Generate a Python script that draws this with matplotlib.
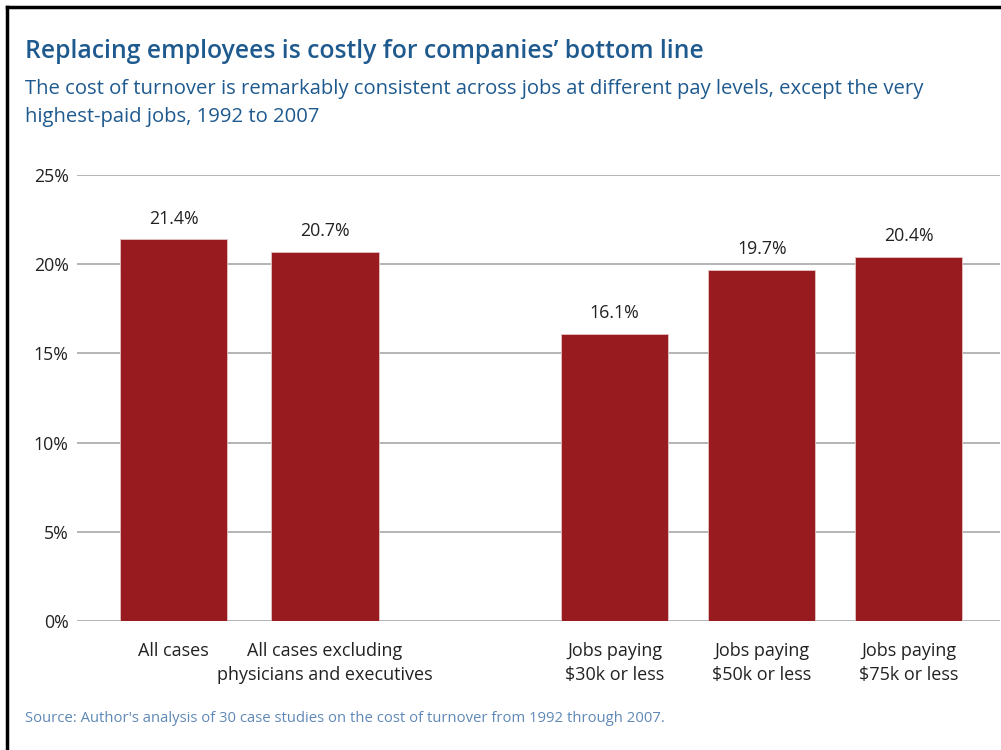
import matplotlib
matplotlib.use("Agg")
import matplotlib.pyplot as plt
from matplotlib.lines import Line2D

categories = ["All cases", "All cases excluding\nphysicians and executives",
              "Jobs paying\n$30k or less", "Jobs paying\n$50k or less", "Jobs paying\n$75k or less"]
values = [21.4, 20.7, 16.1, 19.7, 20.4]
value_labels = ["21.4%", "20.7%", "16.1%", "19.7%", "20.4%"]
yticks = [0, 5, 10, 15, 20, 25]
ytick_labels = ["0%", "5%", "10%", "15%", "20%", "25%"]
positions = [0, 1.03, 3, 4, 5]

title = "Replacing employees is costly for companies\u2019 bottom line"
subtitle = ("The cost of turnover is remarkably consistent across jobs at different pay levels, except the very\n"
            "highest-paid jobs, 1992 to 2007")
source = "Source: Author's analysis of 30 case studies on the cost of turnover from 1992 through 2007."

plt.rcParams['font.family'] = ['Open Sans', 'DejaVu Sans']

fig = plt.figure(figsize=(10.01, 7.5), dpi=100)
ax = fig.add_axes([77/1001, 1 - 621/750, (1000-77)/1001, (621-175)/750])

bar_color = "#971b1f"
ax.bar(positions, values, width=0.73, color=bar_color, edgecolor="#e3c4c4", linewidth=0.6, zorder=3)
for x, v, lab in zip(positions, values, value_labels):
    ax.text(x, v + 0.65, lab, ha="center", va="bottom", fontsize=12.8, color="#222222")

ax.set_ylim(0, 25)
ax.set_xlim(-0.656, 5.62)
ax.set_yticks(yticks)
ax.set_yticklabels(ytick_labels, fontsize=12.8, color="#222222")
ax.set_xticks(positions)
ax.set_xticklabels(categories, fontsize=13, color="#222222", linespacing=1.45)
ax.tick_params(axis="both", length=0, pad=6)
ax.tick_params(axis="x", pad=15)
ax.grid(axis="y", color="#a8a8a8", linewidth=1.2, zorder=0)
for s in ax.spines.values():
    s.set_visible(False)

fig.text(25/1001, 1 - 51/750, title, fontsize=17.8, fontweight="semibold", color="#1f5a8f", va="center")
fig.text(25/1001, 1 - 103/750, subtitle, fontsize=14.6, color="#1f5a8f", va="center", linespacing=1.5)
fig.text(25/1001, 1 - 718/750, source, fontsize=10.7, color="#5f88b6", va="center")

fig.add_artist(Line2D([7/1001, 1], [1 - 7/750, 1 - 7/750], color="black", linewidth=2.5, transform=fig.transFigure))
fig.add_artist(Line2D([7/1001, 7/1001], [1 - 7/750, 0], color="black", linewidth=2.5, transform=fig.transFigure))

fig.savefig("out.png", dpi=100)
